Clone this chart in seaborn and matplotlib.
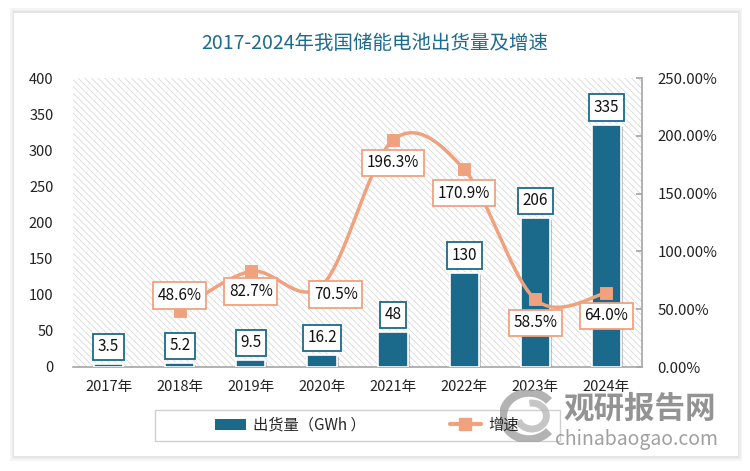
import numpy as np
import pandas as pd
import seaborn as sns
import matplotlib.pyplot as plt
from matplotlib.patches import Rectangle, Patch, Arc
from matplotlib.lines import Line2D
from matplotlib.ticker import FuncFormatter, MultipleLocator
import matplotlib.patheffects as pe

# 数据
years = ["2017年", "2018年", "2019年", "2020年", "2021年", "2022年", "2023年", "2024年"]
shipment = [3.5, 5.2, 9.5, 16.2, 48, 130, 206, 335]
growth_years = ["2018年", "2019年", "2020年", "2021年", "2022年", "2023年", "2024年"]
growth = [48.6, 82.7, 70.5, 196.3, 170.9, 58.5, 64.0]

bar_color = "#1b6a8c"
line_color = "#f0a27e"

sns.set_theme(style="white")
plt.rcParams["font.family"] = ["Noto Sans CJK SC", "DejaVu Sans"]
plt.rcParams["hatch.color"] = "#d9d9d9"
plt.rcParams["hatch.linewidth"] = 0.6

fig = plt.figure(figsize=(7.5, 4.71), dpi=100)
fig.patch.set_facecolor("white")

# 卡片背景 + 阴影
for i, a in enumerate([0.03, 0.03, 0.04]):
    fig.patches.append(Rectangle((13 / 750 - i * 0.002, 13 / 471 - i * 0.003), 726 / 750 + i * 0.004, 447 / 471 + i * 0.006,
                                 transform=fig.transFigure, fc="black", alpha=a, ec="none", zorder=0))
fig.patches.append(Rectangle((14 / 750, 15 / 471), 724 / 750, 443 / 471,
                             transform=fig.transFigure, fc="white", ec="none", zorder=0))

ax = fig.add_axes([73 / 750, 1 - 367 / 471, 569 / 750, 289 / 471])
ax.set_zorder(1)
ax.patch.set_facecolor("white")
ax.patch.set_hatch("\\\\\\\\\\")
ax.patch.set_edgecolor("#d9d9d9")
ax.patch.set_linewidth(0)

df = pd.DataFrame({"year": years, "shipment": shipment})
sns.barplot(data=df, x="year", y="shipment", color=bar_color, width=0.41, saturation=1,
            edgecolor="white", linewidth=1.2, ax=ax, zorder=3)
for p in ax.patches:
    p.set_path_effects([pe.SimplePatchShadow(offset=(1.5, -1.5), shadow_rgbFace="gray", alpha=0.45), pe.Normal()])

ax.set_xlim(-0.5, 7.5)
ax.set_ylim(0, 400)
ax.yaxis.set_major_locator(MultipleLocator(50))
ax.set_xlabel("")
ax.set_ylabel("")
for s in ["top", "right", "left"]:
    ax.spines[s].set_visible(False)
ax.spines["bottom"].set_color("#a6a6a6")
ax.spines["bottom"].set_linewidth(1.2)
ax.tick_params(axis="x", length=0, labelsize=10.5, colors="#222222", pad=9)
ax.tick_params(axis="y", length=0, labelsize=10.5, colors="#222222", pad=14)

for i, v in enumerate(shipment):
    ax.annotate(f"{v:g}", (i, v), xytext=(0, 12.6), textcoords="offset points",
                ha="center", va="center", fontsize=11, color="#111111", zorder=6,
                bbox=dict(boxstyle="square,pad=0.3", fc="white", ec=bar_color, lw=1.3))

# 增速 (右轴)
ax2 = ax.twinx()
ax2.set_zorder(2)
ax2.patch.set_visible(False)
ax2.set_ylim(0, 250)
ax2.yaxis.set_major_locator(MultipleLocator(50))
ax2.yaxis.set_major_formatter(FuncFormatter(lambda v, _: f"{v:.2f}%"))
for s in ["top", "left", "bottom"]:
    ax2.spines[s].set_visible(False)
ax2.spines["right"].set_color("#a6a6a6")
ax2.spines["right"].set_linewidth(1.2)
ax2.tick_params(axis="y", direction="in", length=4, color="#a6a6a6", labelsize=10.8, colors="#222222", pad=11)
ax2.grid(False)
ax.grid(False)

gx = np.array([years.index(y) for y in growth_years], dtype=float)
gy = np.array(growth)


def catmull_rom(x, y, n=30):
    px = np.concatenate([[x[0]], x, [x[-1]]])
    py = np.concatenate([[y[0]], y, [y[-1]]])
    xs, ys = [], []
    t = np.linspace(0, 1, n)
    for i in range(1, len(px) - 2):
        p0, p1, p2, p3 = (np.array([px[j], py[j]]) for j in (i - 1, i, i + 1, i + 2))
        c1 = p1 + (p2 - p0) / 6
        c2 = p2 - (p3 - p1) / 6
        pts = ((1 - t) ** 3)[:, None] * p1 + (3 * (1 - t) ** 2 * t)[:, None] * c1 \
            + (3 * (1 - t) * t ** 2)[:, None] * c2 + (t ** 3)[:, None] * p2
        xs.append(pts[:, 0])
        ys.append(pts[:, 1])
    return np.concatenate(xs), np.concatenate(ys)


sx, sy = catmull_rom(gx, gy)
ax2.plot(sx, sy, color=line_color, lw=2.5, zorder=4, solid_capstyle="round")
sns.scatterplot(x=gx, y=gy, marker="s", s=65, color=line_color, edgecolor=line_color, ax=ax2, zorder=5)

offsets = [(0, 11), (0, -14.5), (10, -6.5), (0, -16.5), (0, -17), (0, -17), (0, -16.5)]
for x, v, off in zip(gx, gy, offsets):
    ax2.annotate(f"{v:.1f}%", (x, v), xytext=off, textcoords="offset points",
                 ha="center", va="center", fontsize=11, color="#111111", zorder=7,
                 bbox=dict(boxstyle="square,pad=0.3", fc="white", ec=line_color, lw=1.3))

# 标题
fig.text(0.5, 1 - 43 / 471, "2017-2024年我国储能电池出货量及增速", ha="center", va="center",
         fontsize=14, color="#1f6b8e")

# 图例
fig.patches.append(Rectangle((155 / 750, 1 - 441 / 471), 405 / 750, 31 / 471, transform=fig.transFigure,
                             fc="white", ec="#d0d0d0", lw=1, zorder=1))
handles = [Patch(facecolor=bar_color, edgecolor="none"),
           Line2D([0], [0], color=line_color, lw=3, marker="s", markersize=8)]
leg = fig.legend(handles, ["出货量（GWh ）", "增速"], loc="center", bbox_to_anchor=(367 / 750, 1 - 425 / 471),
                 ncol=2, frameon=False, fontsize=11, handlelength=2.0, handletextpad=0.5,
                 columnspacing=5.5)

# 水印
logo = fig.add_axes([500 / 750, 1 - 442 / 471, 58 / 750, 52 / 471])
logo.set_zorder(5)
logo.patch.set_visible(False)
logo.set_axis_off()
logo.set_xlim(-1, 1)
logo.set_ylim(-1, 1)
logo.add_patch(Arc((0, 0), 1.8, 1.8, theta1=40, theta2=320, lw=6, color="#a0a0a0", alpha=0.8))
logo.add_patch(Arc((0.1, 0), 1.0, 1.0, theta1=200, theta2=100, lw=5, color="#b8b8b8", alpha=0.8))
fig.text(640 / 750, 1 - 409 / 471, "观研报告网", ha="center", va="center", fontsize=22,
         fontweight="bold", color="#808080", alpha=0.85)
fig.text(636 / 750, 1 - 440 / 471, "chinabaogao.com", ha="center", va="center", fontsize=14,
         color="#909090", alpha=0.85)

fig.savefig("out.png", dpi=100)
